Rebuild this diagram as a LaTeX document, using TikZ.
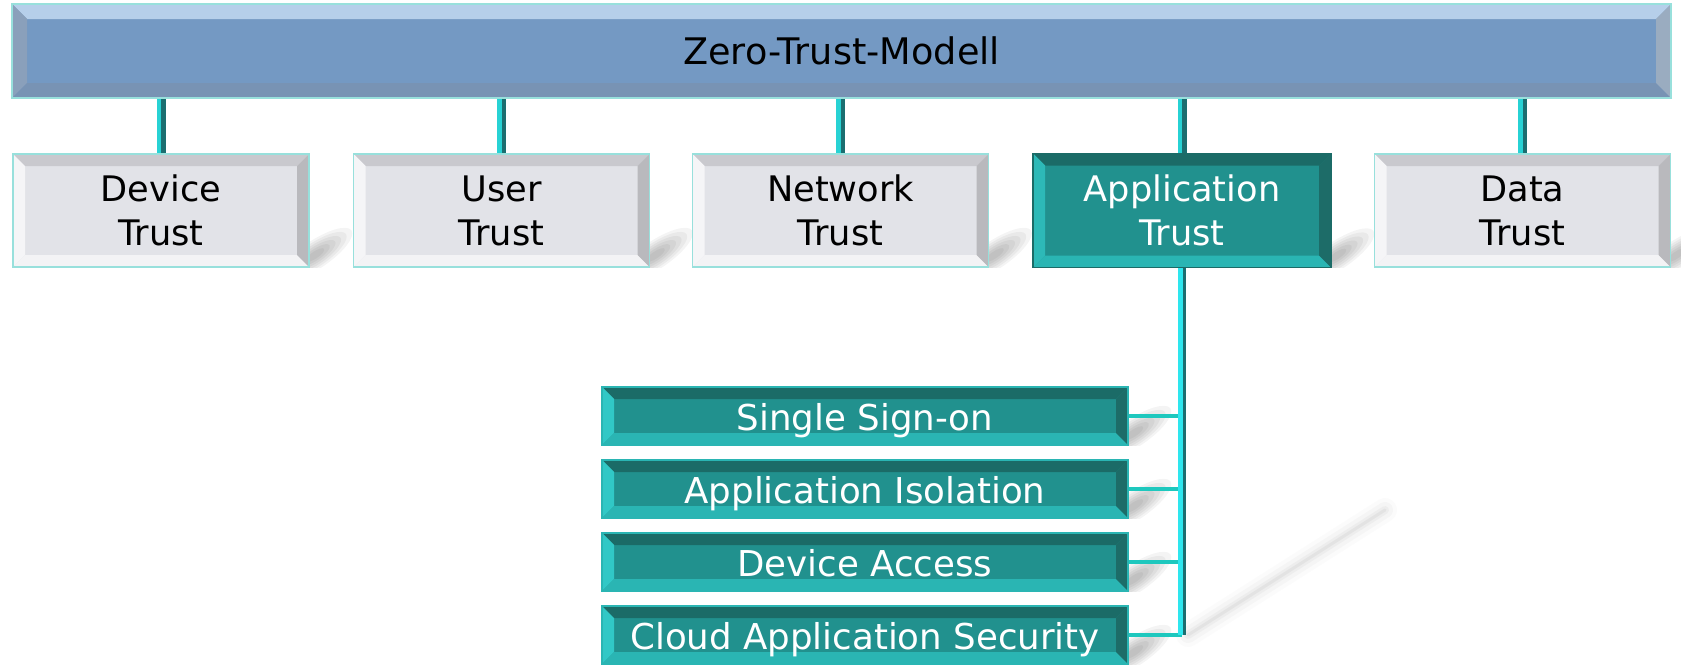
\documentclass[tikz,border=0pt]{standalone}
\usepackage{fontspec}
\setmainfont{DejaVu Sans}
\usetikzlibrary{calc}

\definecolor{barface}{HTML}{7499C3}
\definecolor{bartop}{HTML}{B6CFEA}
\definecolor{barleft}{HTML}{8AA0BB}
\definecolor{barbottom}{HTML}{7893B4}
\definecolor{barright}{HTML}{9AACC0}
\definecolor{rim}{HTML}{98E0DC}
\definecolor{grayface}{HTML}{E2E3E8}
\definecolor{graytop}{HTML}{C9C9CE}
\definecolor{grayleft}{HTML}{F5F5F7}
\definecolor{graybottom}{HTML}{F3F3F5}
\definecolor{grayright}{HTML}{B9B9BD}
\definecolor{tealface}{HTML}{21918E}
\definecolor{tealtop}{HTML}{1B6B67}
\definecolor{tealleft}{HTML}{2DB9B7}
\definecolor{tealbottom}{HTML}{2AB5B3}
\definecolor{tealright}{HTML}{1D6C68}
\definecolor{subleft}{HTML}{31C8C6}
\definecolor{linkcyan}{HTML}{27D2D4}
\definecolor{linkdark}{HTML}{1B6E70}
\definecolor{branch}{HTML}{1EC8BE}
\definecolor{vcyan}{HTML}{2EE6EE}

% bevelled frame drawn over a rectangular node: name, bevel, top, left, bottom, right, rim
\newcommand\bevelframe[7]{%
  \fill[#3] (#1.north west) -- (#1.north east) -- ([shift={(-#2,-#2)}]#1.north east) -- ([shift={(#2,-#2)}]#1.north west) -- cycle;
  \fill[#4] (#1.north west) -- ([shift={(#2,-#2)}]#1.north west) -- ([shift={(#2,#2)}]#1.south west) -- (#1.south west) -- cycle;
  \fill[#5] (#1.south west) -- ([shift={(#2,#2)}]#1.south west) -- ([shift={(-#2,#2)}]#1.south east) -- (#1.south east) -- cycle;
  \fill[#6] (#1.south east) -- ([shift={(-#2,#2)}]#1.south east) -- ([shift={(-#2,-#2)}]#1.north east) -- (#1.north east) -- cycle;
  \draw[#7, line width=0.8pt] (#1.north west) rectangle (#1.south east);
}

% soft shadow cast up and to the right of a box's lower right corner
\newcommand\castshadow[1]{%
  \begin{scope}
    \clip ([shift={(-20pt,0pt)}]#1.south east) rectangle ([shift={(30pt,0pt)}]#1.north east);
    \begin{scope}[shift={([shift={(3pt,6pt)}]#1.south east)}, rotate=34]
      \foreach \s in {1,0.85,0.7,0.55,0.4,0.25}{%
        \fill[black, opacity=0.045] (0,0) ellipse ({\s*22pt} and {\s*7pt});
      }
    \end{scope}
  \end{scope}
}

% two-tone connector running down from one node to the next
\newcommand\linkdown[2]{%
  \fill[linkcyan] ($(#2.north |- #1.south)+(-2.25pt,0)$) rectangle (#2.north);
  \fill[linkdark] (#2.north |- #1.south) rectangle ($(#2.north)+(2.25pt,0)$);
}

\tikzset{
  lbl/.style={align=center, inner sep=0pt, outer sep=0pt},
  barbox/.style={lbl, font=\fontsize{18.3}{22}\selectfont, fill=barface, minimum width=829.5pt, minimum height=47pt, text=black},
  graybox/.style={lbl, font=\fontsize{17.6}{22}\selectfont, fill=grayface, minimum width=148pt, minimum height=56.5pt, text=black},
  tealbox/.style={graybox, fill=tealface, minimum width=149pt, minimum height=57pt, text=white},
  subbox/.style={lbl, font=\fontsize{17.8}{22}\selectfont, fill=tealface, minimum width=263pt, minimum height=29pt,
    text height=14.5pt, text depth=0pt, text=white},
  textonly/.style={fill=none},
}

\begin{document}
\begin{tikzpicture}[x=0.5pt, y=-0.5pt]
  \fill[white] (0,0) rectangle (1681,664);
  \useasboundingbox (0,0) rectangle (1681,664);

  % node placement
  \path
    node[barbox]  (zt)  at (841.5,51)   {Zero-Trust-Modell}
    node[graybox] (dev) at (161,210.5)  {Device\\Trust}
    node[graybox] (usr) at (501.5,210.5){User\\Trust}
    node[graybox] (net) at (840.5,210.5){Network\\Trust}
    node[tealbox] (app) at (1182,210.5) {Application\\Trust}
    node[graybox] (dat) at (1522.5,210.5){Data\\Trust}
    node[subbox]  (sso) at (865,416)    {Single Sign-on}
    node[subbox]  (iso) at (865,489)    {Application Isolation}
    node[subbox]  (acc) at (865,562)    {Device Access}
    node[subbox]  (cas) at (865,635)    {Cloud Application Security};

  % shadows behind the boxes
  \foreach \n in {dev,usr,net,app,dat,sso,iso,acc,cas}{\castshadow{\n}}
  \coordinate (vend) at (app.south |- cas.east);
  \coordinate (shadowend) at (1385,510);
  \foreach \w/\o in {12/0.025, 8/0.035, 4/0.05, 1.5/0.07}{%
    \draw[black!60, line width=\w pt, line cap=round, opacity=\o]
      ([shift={(3pt,0pt)}]vend) -- (shadowend);
  }

  % connectors from the model bar to the five trust areas
  \foreach \n in {dev,usr,net,app,dat}{\linkdown{zt}{\n}}

  % branches of Application Trust
  \foreach \n in {sso,iso,acc,cas}{%
    \draw[branch, line width=2pt] (\n.east) -- (\n.east -| app.south);
  }
  \fill[vcyan] ($(app.south)+(-2pt,0)$) rectangle ($(vend)+(0.5pt,0)$);
  \fill[linkdark] ($(app.south)+(0.5pt,0)$) rectangle ($(vend)+(2pt,0)$);

  % box faces and bevelled frames
  \path
    node[barbox]  at (zt)  {}
    node[graybox] at (dev) {}
    node[graybox] at (usr) {}
    node[graybox] at (net) {}
    node[tealbox] at (app) {}
    node[graybox] at (dat) {}
    node[subbox]  at (sso) {}
    node[subbox]  at (iso) {}
    node[subbox]  at (acc) {}
    node[subbox]  at (cas) {};

  \bevelframe{zt}{7.5pt}{bartop}{barleft}{barbottom}{barright}{rim}
  \foreach \n in {dev,usr,net,dat}{\bevelframe{\n}{6pt}{graytop}{grayleft}{graybottom}{grayright}{rim}}
  \bevelframe{app}{6pt}{tealtop}{tealleft}{tealbottom}{tealright}{tealtop}
  \foreach \n in {sso,iso,acc,cas}{\bevelframe{\n}{6pt}{tealtop}{subleft}{tealbottom}{tealright}{tealbottom}}

  % labels on top of the frames
  \path
    node[barbox, textonly]  at (zt)  {Zero-Trust-Modell}
    node[graybox, textonly] at (dev) {Device\\Trust}
    node[graybox, textonly] at (usr) {User\\Trust}
    node[graybox, textonly] at (net) {Network\\Trust}
    node[tealbox, textonly] at (app) {Application\\Trust}
    node[graybox, textonly] at (dat) {Data\\Trust}
    node[subbox, textonly]  at (sso) {Single Sign-on}
    node[subbox, textonly]  at (iso) {Application Isolation}
    node[subbox, textonly]  at (acc) {Device Access}
    node[subbox, textonly]  at (cas) {Cloud Application Security};
\end{tikzpicture}
\end{document}
